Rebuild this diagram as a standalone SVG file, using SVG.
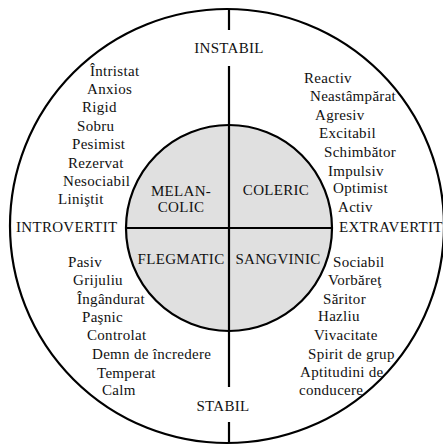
<svg xmlns="http://www.w3.org/2000/svg" width="443" height="445" viewBox="0 0 443 445">
  <style>
    .ring { fill: none; stroke: #000; stroke-width: 2.2; }
    .core { fill: #e0e0e0; stroke: #000; stroke-width: 2.2; }
    .axis { stroke: #000; stroke-width: 2.2; fill: none; }
    text { font-family: "Liberation Serif", "Times New Roman", serif; font-size: 15px; fill: #111; letter-spacing: 0.3px; }
    .mid { text-anchor: middle; }
  </style>

  <rect width="443" height="445" fill="#fff"/>

  <!-- outer ring -->
  <g id="outer-ring">
    <circle class="ring" cx="227" cy="226" r="217"/>
  </g>

  <!-- inner disc holding the four temperaments -->
  <g id="core">
    <circle class="core" cx="229" cy="228" r="103"/>
  </g>

  <!-- axes -->
  <g id="connectors">
    <line class="axis" x1="229" y1="9" x2="229" y2="30"/>
    <line class="axis" x1="229" y1="66" x2="229" y2="387"/>
    <line class="axis" x1="229" y1="422" x2="229" y2="443"/>
    <line class="axis" x1="126" y1="228" x2="332" y2="228"/>
  </g>

  <!-- axis labels -->
  <g id="instabil"><text class="mid" x="229" y="53">INSTABIL</text></g>
  <g id="stabil"><text class="mid" x="223" y="411">STABIL</text></g>
  <g id="introvertit"><text x="16" y="232">INTROVERTIT</text></g>
  <g id="extravertit"><text x="339" y="232">EXTRAVERTIT</text></g>

  <!-- temperaments -->
  <g id="melancolic">
    <text class="mid" x="181" y="196">MELAN-</text>
    <text class="mid" x="181" y="212">COLIC</text>
  </g>
  <g id="coleric"><text class="mid" x="276" y="195">COLERIC</text></g>
  <g id="flegmatic"><text class="mid" x="181" y="264">FLEGMATIC</text></g>
  <g id="sangvinic"><text class="mid" x="278" y="264">SANGVINIC</text></g>

  <!-- traits: melancholic -->
  <g id="traits-melancolic">
    <text x="90" y="76">Întristat</text>
    <text x="87" y="94">Anxios</text>
    <text x="82" y="112">Rigid</text>
    <text x="77" y="131">Sobru</text>
    <text x="72" y="149">Pesimist</text>
    <text x="68" y="168">Rezervat</text>
    <text x="63" y="186">Nesociabil</text>
    <text x="58" y="204">Liniştit</text>
  </g>

  <!-- traits: choleric -->
  <g id="traits-coleric">
    <text x="304" y="83">Reactiv</text>
    <text x="310" y="101">Neastâmpărat</text>
    <text x="315" y="120">Agresiv</text>
    <text x="319" y="138">Excitabil</text>
    <text x="324" y="157">Schimbător</text>
    <text x="328" y="176">Impulsiv</text>
    <text x="333" y="193">Optimist</text>
    <text x="338" y="212">Activ</text>
  </g>

  <!-- traits: phlegmatic -->
  <g id="traits-flegmatic">
    <text x="68" y="267">Pasiv</text>
    <text x="73" y="285">Grijuliu</text>
    <text x="77" y="304">Îngândurat</text>
    <text x="82" y="322">Paşnic</text>
    <text x="87" y="340">Controlat</text>
    <text x="92" y="359">Demn de încredere</text>
    <text x="97" y="378">Temperat</text>
    <text x="102" y="395">Calm</text>
  </g>

  <!-- traits: sanguine -->
  <g id="traits-sangvinic">
    <text x="333" y="267">Sociabil</text>
    <text x="328" y="285">Vorbăreţ</text>
    <text x="323" y="304">Săritor</text>
    <text x="318" y="321">Hazliu</text>
    <text x="314" y="340">Vivacitate</text>
    <text x="308" y="359">Spirit de grup</text>
    <text x="300" y="377">Aptitudini de</text>
    <text x="299" y="395">conducere</text>
  </g>
</svg>
